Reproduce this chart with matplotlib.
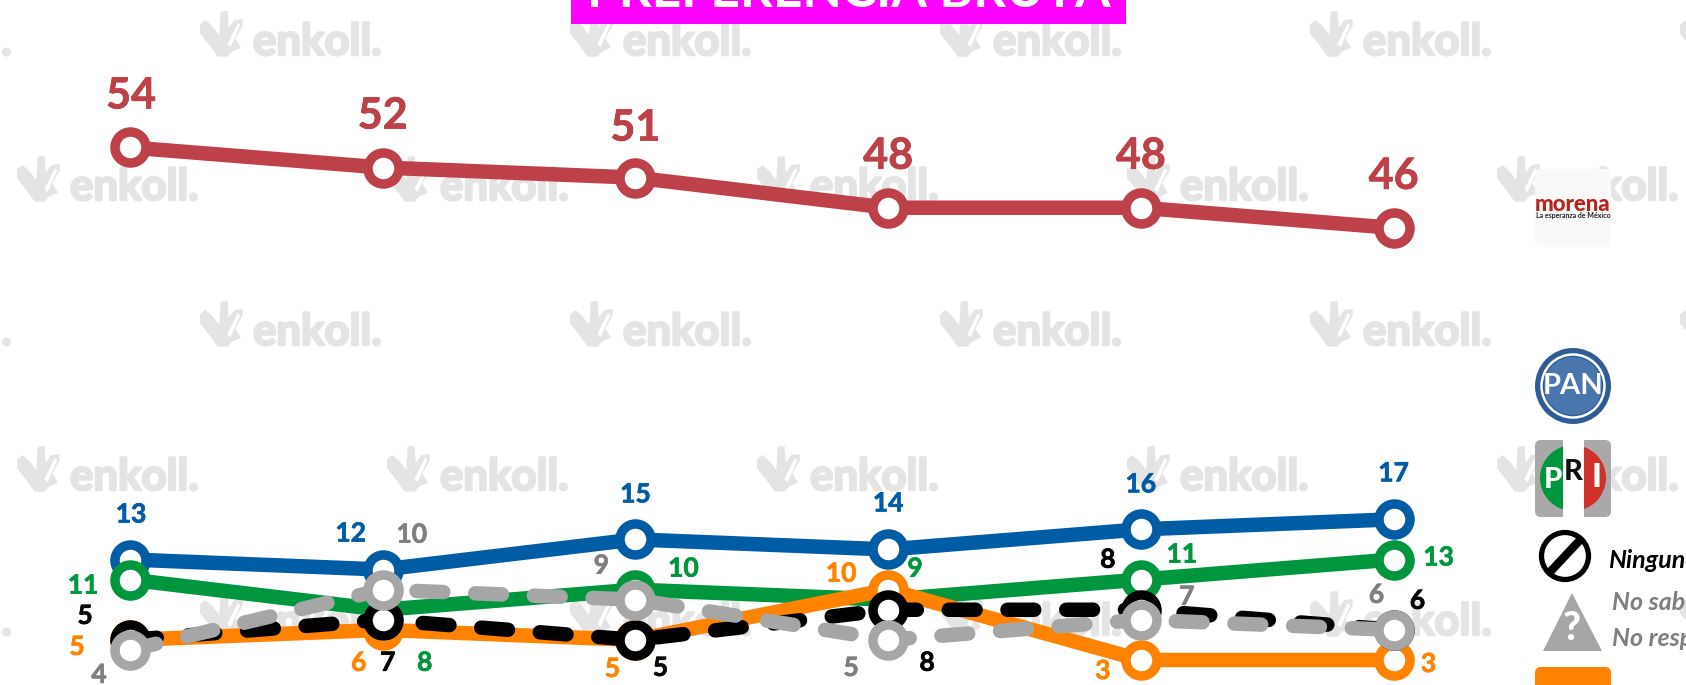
import matplotlib
matplotlib.use("Agg")
import matplotlib.pyplot as plt
import matplotlib.patheffects as pe
from matplotlib.patches import FancyBboxPatch, Circle, Polygon, Rectangle, Wedge

plt.rcParams['font.family'] = ['Lato', 'DejaVu Sans']

W, H = 1686, 685
TITLE = "PREFERENCIA BRUTA"
rounds = list(range(6))
morena = [54, 52, 51, 48, 48, 46]
pan = [13, 12, 15, 14, 16, 17]
pri = [11, 8, 10, 9, 11, 13]
ninguno = [5, 7, 5, 8, 8, 6]
no_sabe = [4, 10, 9, 5, 7, 6]
otro = [5, 6, 5, 10, 3, 3]

# label centres, in pixels away from the marker
off_morena = [(1, -52), (0, -52), (0, -50), (0, -52), (0, -52), (0, -52)]
off_pan = [(1, -45), (-32, -36), (0, -45), (0, -46), (0, -45), (0, -46)]
off_pri = [(-47, 6), (42, 53), (48, -21), (27, -31), (41, -25), (45, -2)]
off_nin = [(-45, -24), (5, 43), (25, 28), (39, 53), (-33, -50), (24, -29)]
off_otr = [(-53, 7), (-24, 33), (-23, 29), (-47, -16), (-38, 11), (35, 4)]
off_nos = [(-31, 25), (29, -55), (-34, -34), (-37, 28), (46, -23), (-17, -35)]

C_MOR, C_PAN, C_PRI = '#BE4048', '#005CA5', '#00963D'
C_ORA, C_GRY, C_LBL = '#FF8200', '#A6A6A6', '#7F7F7F'
WM = '#E4E4E4'

fig = plt.figure(figsize=(W / 100, H / 100), dpi=100, facecolor='white')
bg = fig.add_axes([0, 0, 1, 1])
bg.set_xlim(0, W)
bg.set_ylim(H, 0)
bg.axis('off')

# watermark logo outline, in 3x pixels of the zoomed crop
LOGO = [(22, 58), (38, 45), (58, 62), (80, 90), (84, 20), (105, 18), (108, 68), (125, 45), (150, 42),
        (150, 62), (128, 100), (145, 128), (118, 140), (105, 155), (75, 155), (50, 120), (22, 85)]
SLIT = [(104, 118), (135, 55), (143, 60), (114, 126)]


def watermark(x, base):
    pts = [(x + (a - 22) / 3, base + (b - 150) / 3) for a, b in LOGO]
    bg.add_patch(Polygon(pts, fc=WM, ec='none', zorder=1))
    pts = [(x + (a - 22) / 3, base + (b - 150) / 3) for a, b in SLIT]
    bg.add_patch(Polygon(pts, fc='white', ec='none', zorder=1.1))
    bg.text(x + 53, base, 'enkoll.', fontsize=31.5, fontweight='bold', color=WM, va='baseline', ha='left',
            zorder=1, path_effects=[pe.withStroke(linewidth=1.8, foreground=WM)])


for j in range(5):
    x0 = 200 - 370 if j % 2 == 0 else 17 - 370
    for k in range(6):
        watermark(x0 + k * 370, 55 + 145 * j)

# title
bg.add_patch(Rectangle((571, -5), 555, 28.6, fc='#FF00FF', ec='none', zorder=2))
bg.text(848.5, 7, TITLE, fontsize=37, fontweight='bold', color='white', ha='center', va='baseline', zorder=3)

# morena tile
bg.add_patch(FancyBboxPatch((1539, 173), 68, 70, boxstyle='round,pad=4,rounding_size=6', fc='#F9F9F9',
                            ec='none', zorder=3))
bg.text(1573, 204, 'morena', fontsize=16, fontweight='black', color='#B3261E', ha='center', va='center', zorder=4)
bg.text(1573, 215, 'La esperanza de México', fontsize=5, fontweight='bold', color='#222222', ha='center',
        va='center', zorder=4)

# PAN badge
bg.add_patch(Circle((1573, 386), 38, fc='#2D5C96', ec='none', zorder=3))
bg.add_patch(Circle((1573, 386), 29, fc='#4A76AE', ec='none', zorder=3.5))
bg.add_patch(Circle((1573, 386), 31.5, fc='none', ec='white', lw=1.8, zorder=4))
bg.text(1573, 386, 'PAN', fontsize=21, fontweight='bold', color='white', ha='center', va='center', zorder=5,
        family=['Liberation Sans Narrow', 'Lato'])

# PRI tile
bg.add_patch(FancyBboxPatch((1539, 444), 68, 69, boxstyle='round,pad=4,rounding_size=6', fc='#A9A9A9',
                            ec='none', zorder=3))
bg.add_patch(Wedge((1573, 478), 33, 90, 270, fc=C_PRI, ec='none', zorder=3.4))
bg.add_patch(Wedge((1573, 478), 33, 270, 90, fc='#D0312D', ec='none', zorder=3.4))
bg.add_patch(Rectangle((1563, 440), 20.5, 77, fc='white', ec='none', zorder=3.5))
bg.text(1553, 480, 'P', fontsize=21, fontweight='black', color='white', ha='center', va='center', zorder=5)
bg.text(1573, 472, 'R', fontsize=21, fontweight='black', color='#111111', ha='center', va='center', zorder=5)
bg.text(1596, 477, 'I', fontsize=24, fontweight='black', color='white', ha='center', va='center', zorder=5)

# Ninguno icon
bg.add_patch(Circle((1565, 556), 23.5, fc='white', ec='black', lw=3.8, zorder=3))
bg.plot([1550, 1580], [572, 540], color='black', lw=6, solid_capstyle='butt', zorder=4)
bg.text(1608, 560, 'Ninguno', fontsize=18, fontweight='bold', fontstyle='italic', color='black', va='center',
        ha='left', zorder=4)

# No sabe icon
bg.add_patch(Polygon([(1543, 651), (1602, 651), (1572, 593)], fc=C_GRY, ec='none', zorder=3))
bg.text(1572, 629, '?', fontsize=28, fontweight='black', color='white', ha='center', va='center', zorder=4)
bg.text(1612, 602, 'No sabe', fontsize=18, fontweight='bold', fontstyle='italic', color=C_LBL, va='center',
        ha='left', zorder=4)
bg.text(1612, 638, 'No responde', fontsize=18, fontweight='bold', fontstyle='italic', color=C_LBL, va='center',
        ha='left', zorder=4)

# orange tile
bg.add_patch(FancyBboxPatch((1539, 671), 68, 40, boxstyle='round,pad=4,rounding_size=6', fc=C_ORA,
                            ec='none', zorder=3))

# data axes
ax = fig.add_axes([0, 0, 1, 1], facecolor='none')
ax.axis('off')
px_per_round = 252.7
ax.set_xlim(-130 / px_per_round, (W - 130) / px_per_round)
ax.set_ylim(3 - (H - 660) / 10.05, 3 + 660 / 10.05)

PX = 72 / 100


def series(vals, color, z, offs, lblcolor=None, dashed=False, lblsize=19):
    kw = dict(linestyle=(0, (1.85, 2.2)), dash_capstyle='round') if dashed else dict(solid_capstyle='butt')
    ax.plot(rounds, vals, color=color, lw=14.5 * PX, zorder=z, marker='o', ms=31 * PX, mew=9.5 * PX,
            mfc='white', mec=color, **kw)
    c = lblcolor or color
    for x, v, (dx, dy) in zip(rounds, vals, offs):
        ax.annotate(str(v), (x, v), xytext=(dx * PX, -dy * PX), textcoords='offset points', ha='center',
                    va='center', fontsize=lblsize, fontweight='bold', color=c, zorder=20,
                    annotation_clip=False, path_effects=[pe.withStroke(linewidth=0.5, foreground=c)])


series(morena, C_MOR, 5, off_morena, lblsize=31)
series(pan, C_PAN, 6, off_pan)
series(pri, C_PRI, 7, off_pri)
series(otro, C_ORA, 8, off_otr)
series(ninguno, 'black', 9, off_nin, dashed=True)
series(no_sabe, C_GRY, 10, off_nos, lblcolor=C_LBL, dashed=True)

fig.savefig('out.png', dpi=100, facecolor='white')
